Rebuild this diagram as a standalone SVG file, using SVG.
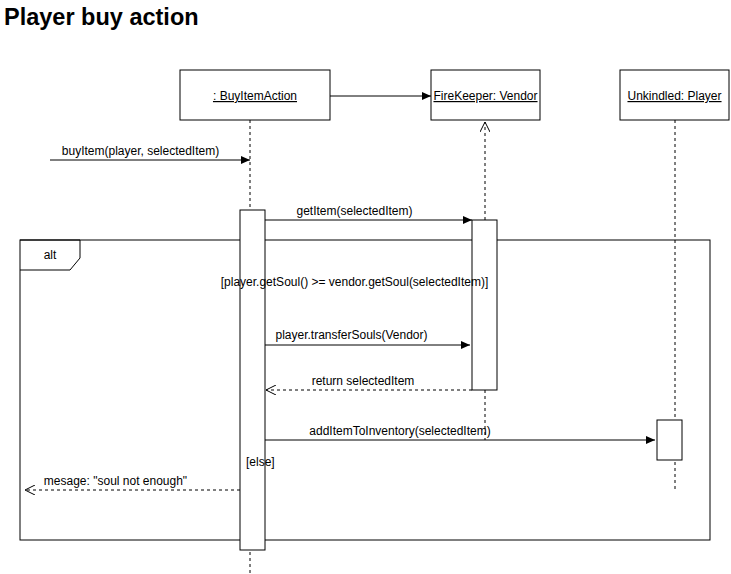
<svg xmlns="http://www.w3.org/2000/svg" width="731" height="574" viewBox="0 0 731 574">
<style>
text{font-family:"Liberation Sans",Arial,sans-serif;font-size:12px;fill:#000}
.box{fill:#fff;stroke:#000;stroke-width:1}
.life{stroke:#000;stroke-width:1;stroke-dasharray:3,3;fill:none}
.msg{stroke:#000;stroke-width:1;fill:none}
.ret{stroke:#000;stroke-width:1;stroke-dasharray:3,3;fill:none}
.u{text-decoration:underline}
</style>
<defs>
<marker id="fill" markerWidth="10" markerHeight="8" refX="9" refY="4" orient="auto" markerUnits="userSpaceOnUse">
<path d="M0,0 L9,4 L0,8 Z" fill="#000"/>
</marker>
<marker id="openEnd" markerWidth="12" markerHeight="10" refX="11" refY="5" orient="auto" markerUnits="userSpaceOnUse">
<path d="M1,0 L11,5 L1,10" fill="none" stroke="#000"/>
</marker>
</defs>
<rect width="731" height="574" fill="#fff"/>
<text x="4" y="25" style="font-size:23.5px;font-weight:bold">Player buy action</text>

<g id="lifelines">
<line class="life" x1="250" y1="120" x2="250" y2="574"/>
<line class="life" x1="675" y1="120" x2="675" y2="490"/>
<line class="life" x1="485" y1="390" x2="485" y2="440"/>
</g>

<g id="alt-frame">
<rect x="20" y="240" width="690" height="300" fill="none" stroke="#000"/>
<path d="M20,240 H80 V258 L70,270 H20" fill="none" stroke="#000"/>
<text x="50" y="259" text-anchor="middle">alt</text>
</g>

<g id="buyItemAction">
<rect class="box" x="180" y="70" width="150" height="50"/>
<text class="u" x="255" y="100" text-anchor="middle">: BuyItemAction</text>
</g>
<g id="vendor">
<rect class="box" x="431" y="70" width="109" height="50"/>
<text class="u" x="485.5" y="100" text-anchor="middle">FireKeeper: Vendor</text>
</g>
<g id="player">
<rect class="box" x="620" y="70" width="109" height="50"/>
<text class="u" x="674.5" y="100" text-anchor="middle">Unkindled: Player</text>
</g>

<g id="activation-buy">
<rect class="box" x="240" y="210" width="25" height="340"/>
</g>
<g id="activation-vendor">
<rect class="box" x="472" y="220" width="25" height="170"/>
</g>
<g id="activation-player">
<rect class="box" x="657" y="420" width="25" height="40"/>
</g>

<g id="guards">
<text x="354.5" y="286" text-anchor="middle">[player.getSoul() &gt;= vendor.getSoul(selectedItem)]</text>
<text x="246" y="466">[else]</text>
</g>

<g id="connectors">
<line class="msg" x1="330" y1="96" x2="431" y2="96" marker-end="url(#fill)"/>
<line class="ret" x1="485" y1="220" x2="485" y2="122" marker-end="url(#openEnd)"/>
<line class="msg" x1="50" y1="160" x2="250" y2="160" marker-end="url(#fill)"/>
<text x="140.5" y="155" text-anchor="middle">buyItem(player, selectedItem)</text>
<line class="msg" x1="265" y1="220" x2="472" y2="220" marker-end="url(#fill)"/>
<text x="354.5" y="215" text-anchor="middle">getItem(selectedItem)</text>
<line class="msg" x1="265" y1="345" x2="470" y2="345" marker-end="url(#fill)"/>
<text x="351.5" y="339" text-anchor="middle">player.transferSouls(Vendor)</text>
<line class="ret" x1="472" y1="390" x2="266" y2="390" marker-end="url(#openEnd)"/>
<text x="363" y="385" text-anchor="middle">return selectedItem</text>
<line class="msg" x1="265" y1="440" x2="655" y2="440" marker-end="url(#fill)"/>
<text x="400" y="435" text-anchor="middle">addItemToInventory(selectedItem)</text>
<line class="ret" x1="240" y1="490" x2="25" y2="490" marker-end="url(#openEnd)"/>
<text x="115.5" y="485" text-anchor="middle">mesage: "soul not enough"</text>
</g>
</svg>
